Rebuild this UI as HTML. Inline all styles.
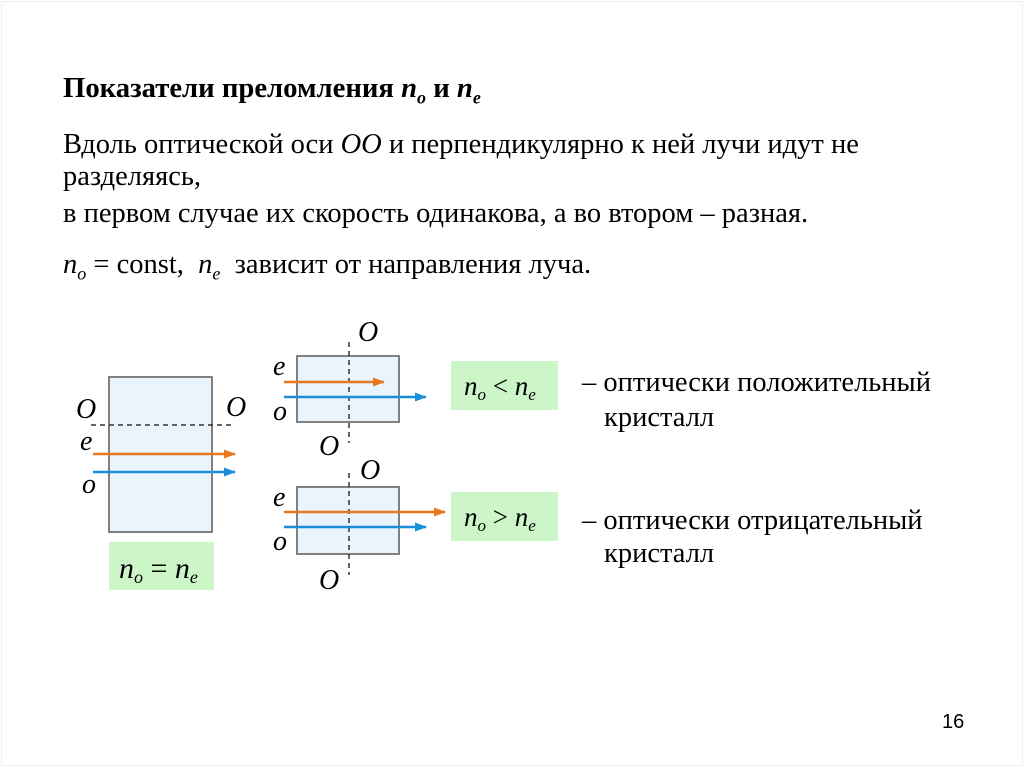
<!DOCTYPE html>
<html><head><meta charset="utf-8"><style>
body{margin:0;width:1024px;height:767px;background:#fff;position:relative;overflow:hidden;font-family:"Liberation Serif",serif;color:#000}
.t{position:absolute;font-size:28.5px;white-space:nowrap;line-height:1}
i{font-style:italic}
sub{font-size:18px}
</style></head><body>
<div style="position:absolute;left:1px;top:1px;width:1020px;height:763px;border:1px solid #eee"></div>
<div class="t" style="left:63px;top:74px;font-weight:bold;font-size:28.7px">Показатели преломления <i>n<sub>o</sub></i> и <i>n<sub>e</sub></i></div>
<div class="t" style="left:63px;top:131px">Вдоль оптической оси <i>OO</i> и перпендикулярно к ней лучи идут не</div>
<div class="t" style="left:63px;top:163px">разделяясь,</div>
<div class="t" style="left:63px;top:200px">в первом случае их скорость одинакова, а во втором – разная.</div>
<div class="t" style="left:63px;top:251px"><i>n<sub>o</sub></i> = const,&nbsp; <i>n<sub>e</sub></i>&nbsp; зависит от направления луча.</div>
<svg width="1024" height="767" style="position:absolute;left:0;top:0" font-family="Liberation Serif" font-style="italic" font-size="28">
<defs>
<marker id="ao" markerWidth="12" markerHeight="9" refX="11" refY="4.5" orient="auto" markerUnits="userSpaceOnUse"><path d="M0,0L12,4.5L0,9Z" fill="#e8781e"/></marker>
<marker id="ab" markerWidth="12" markerHeight="9" refX="11" refY="4.5" orient="auto" markerUnits="userSpaceOnUse"><path d="M0,0L12,4.5L0,9Z" fill="#1a8fd8"/></marker>
</defs>
<rect x="109" y="377" width="103" height="155" fill="#eaf4fc" stroke="#808080" stroke-width="2"/>
<line x1="91" y1="425" x2="231" y2="425" stroke="#333" stroke-width="1.5" stroke-dasharray="5,4"/>
<line x1="93" y1="454" x2="235" y2="454" stroke="#e8781e" stroke-width="2.5" marker-end="url(#ao)"/>
<line x1="93" y1="472" x2="235" y2="472" stroke="#1a8fd8" stroke-width="2.5" marker-end="url(#ab)"/>
<text x="76" y="418">O</text><text x="226" y="416">O</text>
<text x="80" y="450">e</text><text x="82" y="493">o</text>
<rect x="109" y="542" width="105" height="48" fill="#ccf5c8"/>
<text x="119" y="578" font-size="30">n<tspan font-size="18" dy="5">o</tspan><tspan dy="-5" font-style="normal"> = </tspan>n<tspan font-size="18" dy="5">e</tspan></text>

<rect x="297" y="356" width="102" height="66" fill="#eaf4fc" stroke="#808080" stroke-width="2"/>
<line x1="349" y1="342" x2="349" y2="443" stroke="#333" stroke-width="1.5" stroke-dasharray="5,4"/>
<line x1="284" y1="382" x2="384" y2="382" stroke="#e8781e" stroke-width="2.5" marker-end="url(#ao)"/>
<line x1="284" y1="397" x2="426" y2="397" stroke="#1a8fd8" stroke-width="2.5" marker-end="url(#ab)"/>
<text x="358" y="341">O</text><text x="319" y="455">O</text>
<text x="273" y="375">e</text><text x="273" y="420">o</text>

<rect x="297" y="487" width="102" height="67" fill="#eaf4fc" stroke="#808080" stroke-width="2"/>
<line x1="349" y1="473" x2="349" y2="575" stroke="#333" stroke-width="1.5" stroke-dasharray="5,4"/>
<line x1="284" y1="512" x2="445" y2="512" stroke="#e8781e" stroke-width="2.5" marker-end="url(#ao)"/>
<line x1="284" y1="527" x2="426" y2="527" stroke="#1a8fd8" stroke-width="2.5" marker-end="url(#ab)"/>
<text x="360" y="479">O</text><text x="319" y="589">O</text>
<text x="273" y="506">e</text><text x="273" y="550">o</text>

<rect x="451" y="361" width="107" height="49" fill="#ccf5c8"/>
<text x="464" y="395" font-size="27">n<tspan font-size="17" dy="5">o</tspan><tspan dy="-5" font-style="normal"> &lt; </tspan>n<tspan font-size="17" dy="5">e</tspan></text>
<rect x="451" y="492" width="107" height="49" fill="#ccf5c8"/>
<text x="464" y="526" font-size="27">n<tspan font-size="17" dy="5">o</tspan><tspan dy="-5" font-style="normal"> &gt; </tspan>n<tspan font-size="17" dy="5">e</tspan></text>
<g font-style="normal" font-size="28.5">
<text x="582" y="391">– оптически положительный</text>
<text x="604" y="426">кристалл</text>
<text x="582" y="529">– оптически отрицательный</text>
<text x="604" y="562">кристалл</text>
</g>
<text x="942" y="728" font-family="Liberation Sans" font-style="normal" font-size="20">16</text>
</svg>
</body></html>
